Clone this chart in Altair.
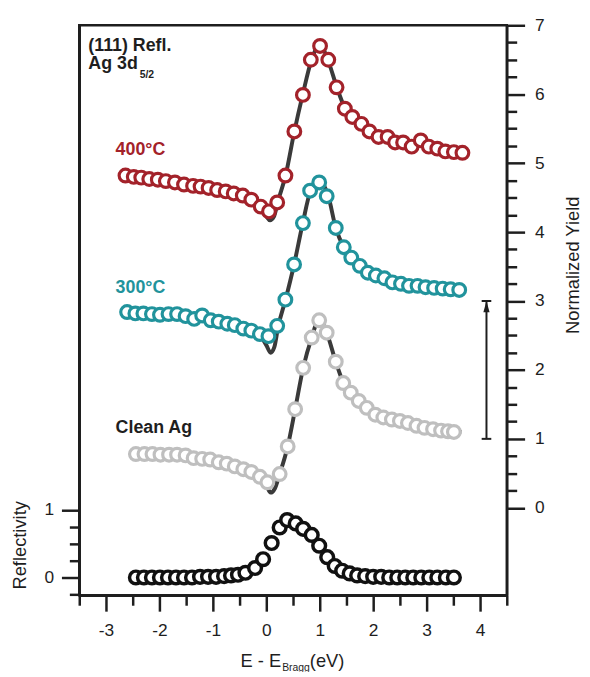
import altair as alt
import pandas as pd

# ---------------- data ----------------
# 400 C
e400 = [-2.635, -2.48, -2.34, -2.19, -2.03, -1.88, -1.71, -1.54, -1.37, -1.23,
        -1.08, -0.92, -0.76, -0.61, -0.44, -0.28, -0.105, 0.05, 0.204, 0.358,
        0.525, 0.685, 0.833, 1.006, 1.16, 1.315, 1.47, 1.61, 1.78, 1.93,
        2.10, 2.27, 2.41, 2.56, 2.72, 2.89, 3.04, 3.20, 3.35, 3.51, 3.67]
y400 = [4.82, 4.80, 4.79, 4.77, 4.76, 4.74, 4.72, 4.69, 4.67, 4.66,
        4.64, 4.61, 4.59, 4.56, 4.53, 4.47, 4.37, 4.30, 4.43, 4.82,
        5.46, 5.99, 6.50, 6.70, 6.50, 6.10, 5.79, 5.67, 5.57, 5.46,
        5.38, 5.38, 5.30, 5.30, 5.24, 5.33, 5.24, 5.21, 5.17, 5.16, 5.15]
# 300 C
e300 = [-2.605, -2.45, -2.30, -2.14, -1.99, -1.83, -1.67, -1.51, -1.35, -1.20,
        -1.04, -0.89, -0.73, -0.59, -0.43, -0.28, -0.12, 0.04, 0.204, 0.357,
        0.52, 0.685, 0.82, 0.99, 1.13, 1.30, 1.45, 1.59, 1.75, 1.90,
        2.05, 2.21, 2.36, 2.52, 2.67, 2.83, 2.98, 3.14, 3.30, 3.45, 3.61]
y300 = [2.84, 2.82, 2.82, 2.81, 2.80, 2.81, 2.81, 2.78, 2.74, 2.79,
        2.72, 2.70, 2.67, 2.65, 2.60, 2.57, 2.52, 2.49, 2.64, 3.02,
        3.53, 4.13, 4.60, 4.72, 4.52, 4.06, 3.78, 3.63, 3.51, 3.41,
        3.37, 3.33, 3.27, 3.25, 3.22, 3.22, 3.20, 3.19, 3.18, 3.17, 3.16]
# Clean Ag
eClean = [-2.44, -2.28, -2.13, -1.98, -1.82, -1.67, -1.51, -1.36, -1.20, -1.05,
          -0.89, -0.74, -0.59, -0.43, -0.28, -0.12, 0.02, 0.25, 0.40, 0.54,
          0.69, 0.85, 0.99, 1.13, 1.30, 1.44, 1.58, 1.73, 1.88, 2.04,
          2.19, 2.35, 2.50, 2.65, 2.81, 2.96, 3.12, 3.27, 3.40, 3.51]
yClean = [0.78, 0.78, 0.78, 0.77, 0.77, 0.77, 0.76, 0.72, 0.71, 0.70,
          0.66, 0.64, 0.60, 0.56, 0.52, 0.45, 0.37, 0.49, 0.89, 1.43,
          2.03, 2.47, 2.72, 2.54, 2.12, 1.81, 1.67, 1.55, 1.45, 1.35,
          1.31, 1.28, 1.26, 1.23, 1.19, 1.16, 1.14, 1.12, 1.11, 1.10]
# Reflectivity
eRefl = [-2.44, -2.29, -2.14, -1.99, -1.84, -1.69, -1.54, -1.39, -1.24, -1.09,
         -0.94, -0.79, -0.66, -0.53, -0.39, -0.21, -0.06, 0.10, 0.25, 0.39,
         0.55, 0.69, 0.85, 0.99, 1.14, 1.28, 1.42, 1.56, 1.70, 1.85,
         2.00, 2.15, 2.30, 2.45, 2.60, 2.75, 2.90, 3.05, 3.20, 3.36, 3.51]
rRefl = [0, 0, 0, 0, 0, 0, 0, 0, 0.01, 0.01,
         0.01, 0.02, 0.03, 0.04, 0.07, 0.14, 0.27, 0.51, 0.74, 0.85,
         0.80, 0.72, 0.63, 0.47, 0.30, 0.17, 0.10, 0.06, 0.03, 0.02,
         0.01, 0.01, 0, 0, 0, 0, 0, 0, 0, 0, 0]

# fitted curves (dark lines)
fit400_e = [-2.64, -1.5, -0.6, -0.3, -0.12, 0.0, 0.07, 0.14, 0.22, 0.36, 0.52, 0.68,
            0.84, 1.0, 1.16, 1.32, 1.47, 1.62, 1.8, 2.0, 2.4, 3.0, 3.7]
fit400_y = [4.82, 4.69, 4.56, 4.47, 4.36, 4.23, 4.17, 4.22, 4.45, 4.82, 5.44, 5.99,
            6.48, 6.72, 6.48, 6.10, 5.80, 5.66, 5.55, 5.44, 5.32, 5.24, 5.15]
fit300_e = [-2.6, -1.5, -0.6, -0.28, -0.12, 0.0, 0.08, 0.15, 0.22, 0.36, 0.52, 0.68,
            0.83, 1.0, 1.16, 1.30, 1.45, 1.6, 1.8, 2.0, 2.4, 3.0, 3.65]
fit300_y = [2.84, 2.77, 2.65, 2.57, 2.50, 2.36, 2.25, 2.33, 2.62, 3.02, 3.53, 4.12,
            4.60, 4.74, 4.52, 4.06, 3.78, 3.63, 3.48, 3.38, 3.27, 3.20, 3.16]
fitC_e = [-2.44, -1.5, -0.6, -0.28, -0.12, 0.0, 0.08, 0.16, 0.25, 0.40, 0.54, 0.69,
          0.85, 0.99, 1.13, 1.30, 1.44, 1.58, 1.8, 2.0, 2.4, 3.0, 3.65]
fitC_y = [0.78, 0.75, 0.60, 0.52, 0.44, 0.33, 0.22, 0.28, 0.49, 0.89, 1.43, 2.03,
          2.47, 2.74, 2.54, 2.12, 1.82, 1.67, 1.50, 1.37, 1.27, 1.16, 1.10]

series_names = ["Clean Ag", "300°C", "400°C"]
series_colors = ["#BFBFBF", "#21939C", "#A3222A"]
label_texts = ["400°C", "300°C", "Clean Ag"]
label_colors = ["#A3222A", "#21939C", "#1E1E1E"]
label_E = [-2.82, -2.82, -2.82]
label_Y = [5.115, 3.11, 1.09]

arrow_E = [4.12]
arrow_Y0 = [1.0]
arrow_Y1 = [3.0]

x_ticks = [-3.5 + 0.5 * i for i in range(17)]
y_ticks = [0.25 * i for i in range(29)]
r_ticks = [-0.25, 0, 0.25, 0.5, 0.75, 1]

# ---------------- tables ----------------
pts = pd.DataFrame({
    "E": eClean + e300 + e400,
    "Y": yClean + y300 + y400,
    "s": [series_names[0]] * len(eClean) + [series_names[1]] * len(e300) + [series_names[2]] * len(e400),
})
fits = pd.DataFrame({
    "E": fitC_e + fit300_e + fit400_e,
    "Y": fitC_y + fit300_y + fit400_y,
    "s": ["c"] * len(fitC_e) + ["m"] * len(fit300_e) + ["h"] * len(fit400_e),
})
refl = pd.DataFrame({"E": eRefl, "R": rRefl})
labels = pd.DataFrame({"E": label_E, "Y": label_Y, "t": label_texts, "c": label_colors})
arrow = pd.DataFrame({"E": arrow_E, "Y": arrow_Y0, "Y2": arrow_Y1})
bars = pd.DataFrame({"E": [arrow_E[0] - 0.09] * 2, "E2": [arrow_E[0] + 0.09] * 2,
                     "Y": [arrow_Y0[0], arrow_Y1[0]]})
head = pd.DataFrame({"E": arrow_E, "Y": [arrow_Y1[0] - 0.08]})
title_tl = pd.DataFrame({"E": [-3.33, -3.33], "Y": [6.63, 6.36], "t": ["(111) Refl.", "Ag 3d"]})
title_sub = pd.DataFrame({"E": [-2.37], "Y": [6.24], "t": ["5/2"]})

FONT = "Liberation Sans"
INK = "#1E1E1E"

def tick_size(major, minor):
    return {"condition": {"test": "datum.value % 1 === 0", "value": major}, "value": minor}

lab_expr = "datum.value % 1 === 0 ? toString(datum.value) : ''"

xs = alt.Scale(domain=[-3.5, 4.5], nice=False, zero=False)
ys = alt.Scale(domain=[-1.27, 7], nice=False, zero=False)
rs = alt.Scale(domain=[-0.264, 8.17], nice=False, zero=False)

axis_style = dict(domainColor=INK, domainWidth=2.5, tickColor=INK, tickWidth=2.5,
                  labelFont=FONT, labelFontSize=17.5, labelColor=INK,
                  titleFont=FONT, titleFontSize=18.5, titleFontWeight="normal", titleColor=INK,
                  grid=False, labelOverlap=False, labelFlush=False)

x_axis = alt.Axis(values=x_ticks, labelExpr=lab_expr, tickSize=tick_size(16, 10),
                  labelPadding=11, title=None, **axis_style)
y_axis = alt.Axis(orient="right", values=y_ticks, labelExpr=lab_expr,
                  tickSize=tick_size(18, 10), labelPadding=10,
                  title="Normalized Yield", titleAngle=270, titleX=72, titleY=242,
                  titleAlign="center", titleBaseline="alphabetic", **axis_style)
r_axis = alt.Axis(orient="left", values=r_ticks, labelExpr=lab_expr,
                  tickSize=tick_size(18, 10), labelPadding=8,
                  title="Reflectivity", titleAngle=270, titleX=-54, titleY=525,
                  titleAlign="center", titleBaseline="alphabetic", **axis_style)

X = alt.X("E:Q", scale=xs, axis=x_axis)
Y = alt.Y("Y:Q", scale=ys, axis=y_axis)

fit_layer = alt.Chart(fits).mark_line(color="#3A3A3A", strokeWidth=4, interpolate="monotone").encode(
    x=X, y=Y, detail="s:N")
pt_layer = alt.Chart(pts).mark_point(shape="circle", size=165, strokeWidth=3.2, fill="white",
                                     fillOpacity=1, opacity=1).encode(
    x=X, y=Y,
    stroke=alt.Stroke("s:N", scale=alt.Scale(domain=series_names, range=series_colors), legend=None),
)
arrow_line = alt.Chart(arrow).mark_rule(color=INK, strokeWidth=2).encode(x=X, y=Y, y2="Y2:Q")
arrow_bars = alt.Chart(bars).mark_rule(color=INK, strokeWidth=2).encode(x=X, x2="E2:Q", y=Y)
arrow_head = alt.Chart(head).mark_point(shape="M0,-1L0.55,1L-0.55,1Z", size=130, filled=True,
                                        color=INK, opacity=1).encode(x=X, y=Y)
lab_layer = alt.Chart(labels).mark_text(align="left", baseline="alphabetic", font=FONT,
                                        fontSize=18, fontWeight="bold").encode(
    x=X, y=Y, text="t:N", color=alt.Color("c:N", scale=None))
tl_layer = alt.Chart(title_tl).mark_text(align="left", baseline="alphabetic", font=FONT,
                                         fontSize=18, fontWeight="bold", color=INK).encode(
    x=X, y=Y, text="t:N")
tl_sub = alt.Chart(title_sub).mark_text(align="left", baseline="alphabetic", font=FONT,
                                        fontSize=10.5, fontWeight="bold", color=INK).encode(
    x=X, y=Y, text="t:N")

yield_group = alt.layer(fit_layer, pt_layer, arrow_line, arrow_bars, arrow_head,
                        lab_layer, tl_layer, tl_sub)

refl_layer = alt.Chart(refl).mark_point(shape="circle", size=165, strokeWidth=3.5, fill="white",
                                        fillOpacity=1, opacity=1, stroke="#111111").encode(
    x=X, y=alt.Y("R:Q", scale=rs, axis=r_axis))

# x-axis title with subscript
xt_df = pd.DataFrame({"k": [0]})
xt1 = alt.Chart(xt_df).mark_text(align="left", baseline="alphabetic", font=FONT, fontSize=18.5,
                                 color=INK, text="E - E").encode(x=alt.value(163), y=alt.value(648))
xt2 = alt.Chart(xt_df).mark_text(align="left", baseline="alphabetic", font=FONT, fontSize=10.5,
                                 color=INK, text="Bragg").encode(x=alt.value(205), y=alt.value(652))
xt3 = alt.Chart(xt_df).mark_text(align="left", baseline="alphabetic", font=FONT, fontSize=18.5,
                                 color=INK, text="(eV)").encode(x=alt.value(233), y=alt.value(648))

chart = alt.layer(yield_group, refl_layer, xt1, xt2, xt3).resolve_scale(y="independent").properties(
    width=432, height=576,
    autosize=alt.AutoSizeParams(type="none"),
    padding={"left": 72, "top": 14, "right": 76, "bottom": 74},
    background="white",
).configure_view(stroke=INK, strokeWidth=2.5)

chart.save("out.html", embed_options={"renderer": "svg", "actions": False})
